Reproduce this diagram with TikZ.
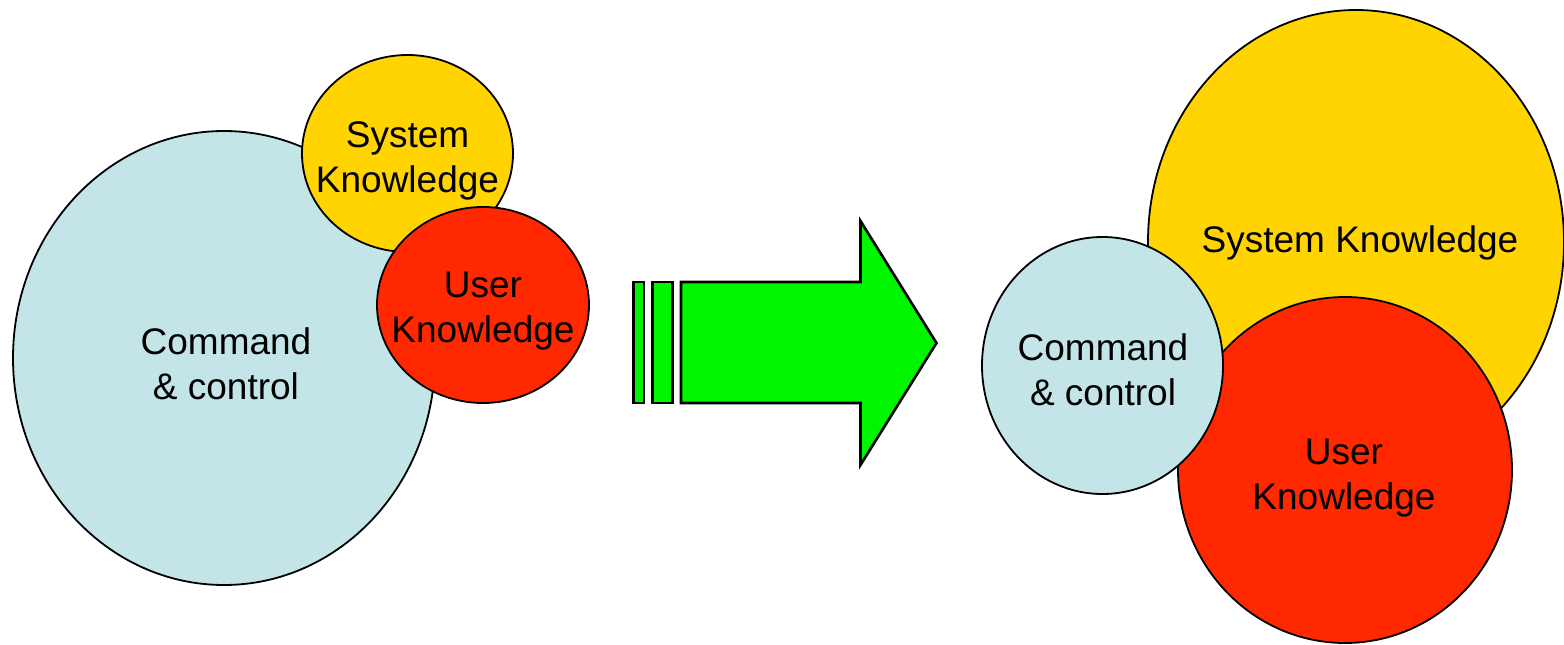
\documentclass[tikz,border=0pt]{standalone}
\usepackage{fontspec}
\setmainfont{Liberation Sans}
\usetikzlibrary{shapes.geometric}
\definecolor{ccblue}{RGB}{196,229,232}
\definecolor{skyellow}{RGB}{255,212,0}
\definecolor{ukred}{RGB}{255,40,0}
\definecolor{arrgreen}{RGB}{0,245,0}
\begin{document}
\begin{tikzpicture}[x=1pt,y=-1pt,
  blob/.style={ellipse,draw=black,line width=1.8pt,inner sep=0pt},
  lbl/.style={align=center,inner sep=0pt,font=\fontsize{37}{45}\selectfont},
  arrpart/.style={draw=black,fill=arrgreen,line width=2.6pt,line join=miter}]
\useasboundingbox (0,0) rectangle (1564,645);
% left group
\node[blob,fill=ccblue,minimum width=422pt,minimum height=454pt] (lcc) at (224,358) {};
\node[blob,fill=skyellow,minimum width=211pt,minimum height=197pt] (lsk) at (407.5,153.5) {};
\node[blob,fill=ukred,minimum width=212pt,minimum height=196pt] (luk) at (483,305) {};
\node[lbl] (lcct) at (226,364) {Command\\\& control};
\node[lbl] (lskt) at (407.5,160.5) {System\\Knowledge};
\node[lbl] (lukt) at (483,311) {User\\Knowledge};
% arrow
\draw[arrpart] (633.5,282) rectangle (644,403);
\draw[arrpart] (652.5,282) rectangle (672.5,403);
\draw[arrpart] (681,282) -- (860.5,282) -- (860.5,221) -- (936.5,343) -- (860.5,465) -- (860.5,403) -- (681,403) -- cycle;
% right group
\node[blob,fill=skyellow,minimum width=416pt,minimum height=464pt] (rsk) at (1356,242) {};
\node[blob,fill=ukred,minimum width=334pt,minimum height=346pt] (ruk) at (1345,470) {};
\node[blob,fill=ccblue,minimum width=241pt,minimum height=257pt] (rcc) at (1102.5,365.5) {};
\node[lbl] (rskt) at (1360,242.5) {System Knowledge};
\node[lbl] (rukt) at (1344,478) {User\\Knowledge};
\node[lbl] (rcct) at (1103,370) {Command\\\& control};
\end{tikzpicture}
\end{document}
